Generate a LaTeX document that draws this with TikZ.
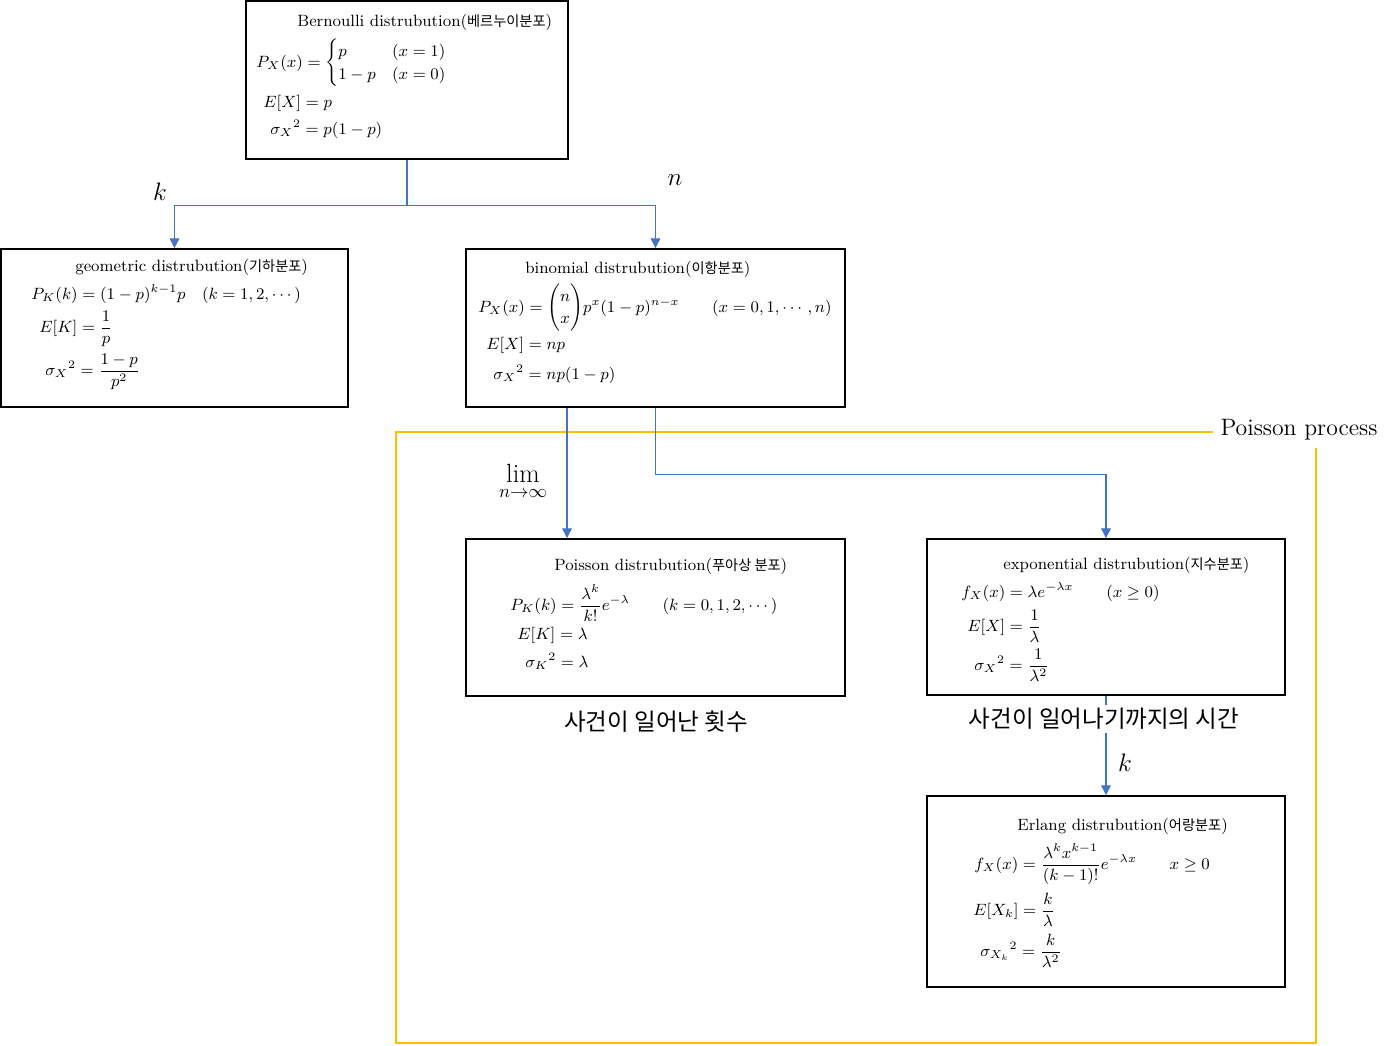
\RequirePackage{fix-cm}
\documentclass[tikz,border=0pt]{standalone}
\usepackage{amsmath}
\usepackage{fontspec}
\newfontfamily\kor{Noto Sans CJK KR}[Scale=0.87]
\usetikzlibrary{arrows.meta}
\definecolor{arrblue}{RGB}{68,114,196}
\definecolor{procyellow}{RGB}{255,192,0}
\begin{document}
\begin{tikzpicture}[x=0.02cm,y=-0.02cm,
  box/.style={draw,line width=1.1pt,inner sep=0pt},
  txt/.style={anchor=west,inner sep=0pt,font=\fontsize{9.3}{11}\selectfont},
  arr/.style={draw=arrblue,line width=0.6pt,-{Triangle[length=5.5pt,width=5.5pt]}},
  varlab/.style={inner sep=0pt,font=\fontsize{14.4}{17}\selectfont},
  korlab/.style={fill=white,inner sep=2pt,font=\kor\fontsize{15.4}{18}\selectfont}]
\useasboundingbox (0,0) rectangle (1386,1045);
\draw[procyellow,line width=1.1pt] (396,432) rectangle (1316,1043);
\node[fill=white,inner sep=0.16cm,font=\fontsize{13.5}{16}\selectfont] (proc) at (1299,430) {Poisson process};
\node[box,minimum width=6.44cm,minimum height=3.16cm] (bern) at (407,80) {};
\node[box,minimum width=6.94cm,minimum height=3.16cm] (geo) at (174.5,328) {};
\node[box,minimum width=7.58cm,minimum height=3.16cm] (binom) at (655.5,328) {};
\node[box,minimum width=7.58cm,minimum height=3.14cm] (poi) at (655.5,617.5) {};
\node[box,minimum width=7.16cm,minimum height=3.12cm] (expo) at (1106,617) {};
\node[box,minimum width=7.16cm,minimum height=3.82cm] (erl) at (1106,891.5) {};
\draw[arr] (bern.south) -- ++(0,46) -| (geo.north);
\draw[arr] (bern.south) -- ++(0,46) -| (binom.north);
\draw[arr] ([xshift=-1.77cm]binom.south) -- ([xshift=-1.77cm]poi.north);
\draw[arr] (binom.south) -- ++(0,67) -| (expo.north);
\draw[arr] (expo.south) -- (erl.north);
\node[varlab] (k1) at (160,192) {$k$};
\node[varlab] (n1) at (675,180) {$n$};
\node[inner sep=0pt,font=\fontsize{15}{18}\selectfont] (lim) at (523,482) {$\displaystyle\lim_{n\to\infty}$};
\node[varlab] (k2) at (1125,763) {$k$};
\node[korlab] (cnt) at (656,722) {사건이 일어난 횟수};
\node[korlab] (wait) at (1104,719) {사건이 일어나기까지의 시간};
\node[txt] (bt) at (297,22) {Bernoulli distrubution({\kor 베르누이분포})};
\node[txt] (b1) at (256,63) {$P_X(x)=\begin{cases}p & (x=1)\\ 1-p & (x=0)\end{cases}$};
\node[txt] (b2) at (263,103) {$E[X]=p$};
\node[txt] (b3) at (270,129) {${\sigma_X}^2=p(1-p)$};
\node[txt] (gt) at (75,267) {geometric distrubution({\kor 기하분포})};
\node[txt] (g1) at (31,294) {$P_K(k)=(1-p)^{k-1}p\quad(k=1,2,\cdots)$};
\node[txt] (g2) at (39,329) {$E[K]=\dfrac{1}{p}$};
\node[txt] (g3) at (45,372) {${\sigma_X}^2=\dfrac{1-p}{p^2}$};
\node[txt] (nt) at (525,269) {binomial distrubution({\kor 이항분포})};
\node[txt] (n1t) at (478,308) {$P_X(x)=\dbinom{n}{x}p^x(1-p)^{n-x}\qquad(x=0,1,\cdots,n)$};
\node[txt] (n2t) at (486,345) {$E[X]=np$};
\node[txt] (n3t) at (493,374) {${\sigma_X}^2=np(1-p)$};
\node[txt] (pt) at (554,566) {Poisson distrubution({\kor 푸아상 분포})};
\node[txt] (p1) at (510,603) {$P_K(k)=\dfrac{\lambda^k}{k!}e^{-\lambda}\qquad(k=0,1,2,\cdots)$};
\node[txt] (p2) at (517,635) {$E[K]=\lambda$};
\node[txt] (p3) at (525,661) {${\sigma_K}^2=\lambda$};
\node[txt] (et) at (1003,565) {exponential distrubution({\kor 지수분포})};
\node[txt] (e1) at (961,592) {$f_X(x)=\lambda e^{-\lambda x}\qquad(x\geq0)$};
\node[txt] (e2) at (967,626) {$E[X]=\dfrac{1}{\lambda}$};
\node[txt] (e3) at (974,665) {${\sigma_X}^2=\dfrac{1}{\lambda^2}$};
\node[txt] (rt) at (1017,826) {Erlang distrubution({\kor 어랑분포})};
\node[txt] (r1) at (974,864) {$f_X(x)=\dfrac{\lambda^k x^{k-1}}{(k-1)!}e^{-\lambda x}\qquad x\geq0$};
\node[txt] (r2) at (973,910) {$E[X_k]=\dfrac{k}{\lambda}$};
\node[txt] (r3) at (980,951) {${\sigma_{X_k}}^2=\dfrac{k}{\lambda^2}$};
\end{tikzpicture}
\end{document}
